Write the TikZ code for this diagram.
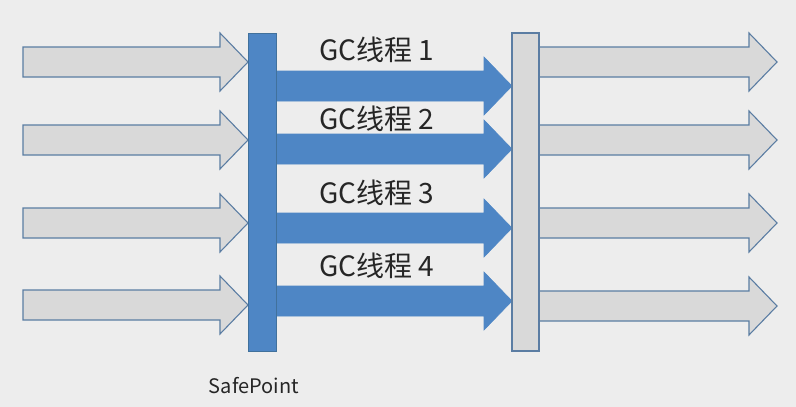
\documentclass[tikz,border=0pt]{standalone}
\usepackage{fontspec}
\newfontfamily\cjk{Noto Sans CJK SC}
\definecolor{pagebg}{HTML}{EDEDED}
\definecolor{gcblue}{HTML}{4E86C5}
\definecolor{gcedge}{HTML}{41719C}
\definecolor{runfill}{HTML}{D9D9D9}
\definecolor{runedge}{HTML}{5B7DA3}
\definecolor{gctext}{HTML}{262626}
\newcommand{\blockarrow}[4]{%
  \filldraw[#1] (#2,#4-15) -- (#3-28,#4-15) -- (#3-28,#4-29) -- (#3,#4)
    -- (#3-28,#4+29) -- (#3-28,#4+15) -- (#2,#4+15) -- cycle;}
\tikzset{
  runarrow/.style={draw=runedge,fill=runfill,line width=1.1pt,line join=miter},
  gcarrow/.style={draw=gcblue,fill=gcblue,line width=0.6pt},
  gclabel/.style={text=gctext,inner sep=0pt,font=\cjk\fontsize{28}{32}\selectfont},
}

\begin{document}
\begin{tikzpicture}[x=1pt,y=-1pt]
\useasboundingbox[fill=pagebg] (0,0) rectangle (796,407);
\blockarrow{runarrow}{23}{248}{62}
\blockarrow{runarrow}{23}{248}{140}
\blockarrow{runarrow}{23}{248}{223}
\blockarrow{runarrow}{23}{248}{305}
\blockarrow{runarrow}{539}{777}{62}
\blockarrow{runarrow}{539}{777}{140}
\blockarrow{runarrow}{539}{777}{223}
\blockarrow{runarrow}{539}{777}{306}
\blockarrow{gcarrow}{276}{512}{86}
\blockarrow{gcarrow}{276}{512}{149}
\blockarrow{gcarrow}{276}{512}{228}
\blockarrow{gcarrow}{276}{512}{301}
\node[gclabel] (lbl1) at (377,50) {GC线程 1};
\node[gclabel] (lbl2) at (377,119) {GC线程 2};
\node[gclabel] (lbl3) at (377,193) {GC线程 3};
\node[gclabel] (lbl4) at (377,266) {GC线程 4};
\node[draw=gcedge,fill=gcblue,line width=0.8pt,inner sep=0pt,minimum width=28pt,minimum height=318pt] (safepoint) at (262,192) {};
\node[draw=runedge,fill=runfill,line width=1.1pt,inner sep=0pt,minimum width=27pt,minimum height=318pt] (resume) at (525.5,192) {};
\node[text=gctext,font=\cjk\fontsize{20}{24}\selectfont] (sptext) at (254,386) {SafePoint};
\end{tikzpicture}
\end{document}
